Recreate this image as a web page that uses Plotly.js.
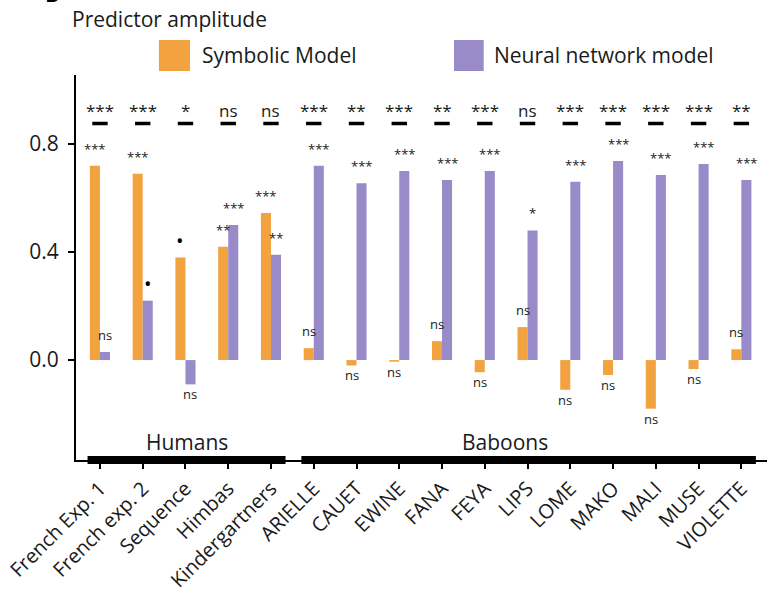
<!DOCTYPE html>
<html>
<head>
<meta charset="utf-8">
<script src="https://cdn.plot.ly/plotly-3.0.1.min.js"></script>
<style>html,body{margin:0;padding:0;background:#fff;}#chart{width:776px;height:593px;}</style>
</head>
<body>
<div id="chart"></div>
<script>
// ---- data ----
const categories = ['French Exp. 1','French exp. 2','Sequence','Himbas','Kindergartners',
  'ARIELLE','CAUET','EWINE','FANA','FEYA','LIPS','LOME','MAKO','MALI','MUSE','VIOLETTE'];
const symbolicValues = [0.72,0.69,0.38,0.42,0.545,0.044,-0.02,-0.006,0.07,-0.045,0.122,-0.11,-0.055,-0.18,-0.033,0.04];
const neuralValues   = [0.03,0.22,-0.09,0.50,0.39,0.72,0.655,0.70,0.667,0.70,0.48,0.66,0.737,0.685,0.726,0.667];
const comparisonSig = ['***','***','*','ns','ns','***','**','***','**','***','ns','***','***','***','***','**'];
const symbolicSig   = ['***','***','•','**','***','ns','ns','ns','ns','ns','ns','ns','ns','ns','ns','ns'];
const neuralSig     = ['ns','•','ns','***','**','***','***','***','***','***','*','***','***','***','***','***'];
const groupNames = ['Humans','Baboons'];
const groupFirst = [0,5];
const groupLast  = [4,15];
const yTicks = [0, 0.4, 0.8];
const yTickText = ['0.0','0.4','0.8'];

// ---- style ----
const FONT = '"Open Sans", sans-serif';
const ORANGE = '#F2A23E';
const PURPLE = '#988BC7';
const TXT = '#1a1a1a';
const SIG_ROW_Y = 0.926;
const DASH_Y = 0.876;
const BIG = 21;

const traces = [
  {type:'bar', name:'Symbolic Model', x:categories, y:symbolicValues, marker:{color:ORANGE}, showlegend:false, hoverinfo:'x+y'},
  {type:'bar', name:'Neural network model', x:categories, y:neuralValues, marker:{color:PURPLE}, showlegend:false, hoverinfo:'x+y'},
  {type:'scatter', mode:'markers', x:categories, y:categories.map(()=>DASH_Y),
   marker:{symbol:'line-ew', size:11, line:{width:3.5, color:'#000'}}, showlegend:false, hoverinfo:'skip', cliponaxis:false}
];

function labelFont(t){ return {family:FONT, size: t==='•' ? 20 : 13, color: t==='•' ? '#000' : TXT}; }

const annotations = [];
categories.forEach((c,i)=>{
  annotations.push({x:c, y:SIG_ROW_Y, text:comparisonSig[i], showarrow:false, font:{family:FONT,size:17,color:TXT}});
  const s = symbolicValues[i];
  annotations.push({x:c, xshift:-5, y:s, yshift: s>=0 ? 17 : -10, text:symbolicSig[i], showarrow:false,
    font:labelFont(symbolicSig[i])});
  const n = neuralValues[i];
  annotations.push({x:c, xshift:5, y:n, yshift: n>=0 ? 17 : -10, text:neuralSig[i], showarrow:false,
    font:labelFont(neuralSig[i])});
});
const groupShift = [2, -23];
groupNames.forEach((g,k)=>{
  annotations.push({x:(groupFirst[k]+groupLast[k])/2, xshift:groupShift[k], y:-0.304, text:g, showarrow:false,
    font:{family:FONT,size:BIG,color:TXT}});
});
// legend text
annotations.push({xref:'paper', yref:'paper', x:0.1795, y:1.052, xanchor:'left', yanchor:'middle',
  text:'Symbolic Model', showarrow:false, font:{family:FONT,size:BIG,color:TXT}});
annotations.push({xref:'paper', yref:'paper', x:0.602, y:1.052, xanchor:'left', yanchor:'middle',
  text:'Neural network model', showarrow:false, font:{family:FONT,size:BIG,color:TXT}});
// panel letter
annotations.push({xref:'paper', yref:'paper', x:-0.048, y:1.17, xanchor:'left', yanchor:'bottom',
  text:'<b>D</b>', showarrow:false, font:{family:FONT,size:22,color:'#000'}});

const shapes = [
  {type:'rect', xref:'paper', yref:'paper', x0:0.120, x1:0.165, y0:1.0104, y1:1.091, fillcolor:ORANGE, line:{width:0}},
  {type:'rect', xref:'paper', yref:'paper', x0:0.547, x1:0.590, y0:1.0104, y1:1.091, fillcolor:PURPLE, line:{width:0}}
];
groupNames.forEach((g,k)=>{
  shapes.push({type:'rect', xref:'x', yref:'paper', ysizemode:'pixel', yanchor:0, y0:-4, y1:4,
    x0:groupFirst[k]-0.29, x1:groupLast[k]+0.34, fillcolor:'#000', line:{width:0}, layer:'above'});
});

const layout = {
  width:776, height:593,
  margin:{l:76, r:9, t:75, b:133, pad:0},
  paper_bgcolor:'#fff', plot_bgcolor:'#fff',
  font:{family:FONT, color:TXT},
  title:{text:'Predictor amplitude', x:72/776, xref:'container', xanchor:'left', y:1-20/593, yanchor:'middle',
    font:{family:FONT, size:BIG, color:TXT}},
  barmode:'group', bargap:0.53, bargroupgap:0,
  showlegend:false,
  xaxis:{type:'category', categoryarray:categories, range:[-0.56,15.6], showgrid:false, zeroline:false,
    showline:true, linecolor:'#000', linewidth:2, ticks:'outside', ticklen:7, tickwidth:2, tickcolor:'#000',
    tickangle:-45, tickfont:{family:FONT, size:20, color:TXT}},
  yaxis:{range:[-0.37,1.0556], tickvals:yTicks, ticktext:yTickText, showgrid:false, zeroline:false,
    showline:true, linecolor:'#000', linewidth:2, ticks:'outside', ticklen:6, tickwidth:2, tickcolor:'#000',
    ticklabelstandoff:5, tickfont:{family:FONT, size:BIG, color:TXT}},
  annotations, shapes
};
Plotly.newPlot('chart', traces, layout, {displayModeBar:false, staticPlot:true});
</script>
</body>
</html>
